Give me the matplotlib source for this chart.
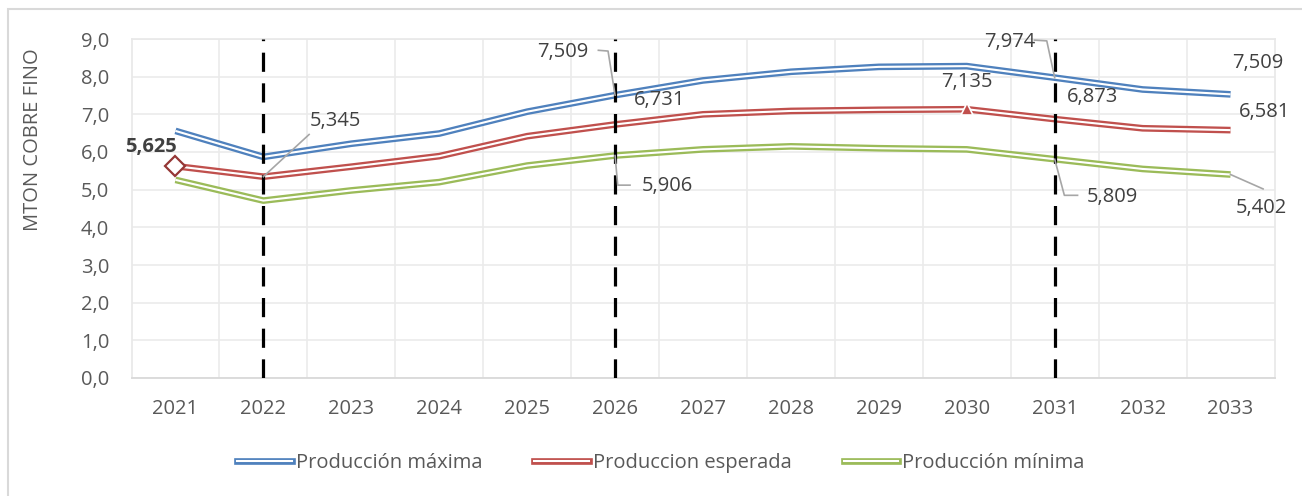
import matplotlib
matplotlib.use("Agg")
import matplotlib.pyplot as plt
import numpy as np
from matplotlib.patches import Rectangle
from matplotlib.lines import Line2D
import matplotlib.patheffects as pe

years = [2021, 2022, 2023, 2024, 2025, 2026, 2027, 2028, 2029, 2030, 2031, 2032, 2033]
prod_max = [6.56, 5.87, 6.22, 6.49, 7.07, 7.509, 7.90, 8.13, 8.26, 8.28, 7.974, 7.66, 7.53]
prod_esp = [5.625, 5.345, 5.61, 5.89, 6.42, 6.731, 7.00, 7.09, 7.12, 7.135, 6.873, 6.63, 6.581]
prod_min = [5.26, 4.71, 4.98, 5.20, 5.64, 5.906, 6.07, 6.15, 6.10, 6.07, 5.809, 5.55, 5.402]
series_names = ["Producción máxima", "Produccion esperada", "Producción mínima"]
colors = ["#4F81BD", "#C0504D", "#9BBB59"]
vlines_years = [2022, 2026, 2031]
ylabel = "MTON COBRE FINO"

FONT = ["Open Sans", "DejaVu Sans"]
plt.rcParams['font.family'] = FONT

W, H = 1302, 496
fig = plt.figure(figsize=(W/100, H/100), dpi=100)
ax = fig.add_axes([131.5/W, 1-378/H, (1274.5-131.5)/W, (378-39)/H])

# figure border (top & left visible)
fig.patches.append(Rectangle((8/W, -0.1), 1.2, 1.1-9.5/H, transform=fig.transFigure,
                             fill=False, edgecolor="#D9D9D9", lw=1.5))

x = np.arange(len(years))
ax.set_xlim(-0.5, len(years)-0.5)
ax.set_ylim(0, 9)
yt = np.arange(0, 9.01, 1)
ax.set_yticks(yt)
ax.set_yticklabels([f"{v:.1f}".replace(".", ",") for v in yt])
ax.set_xticks(x)
ax.set_xticklabels([str(y) for y in years])
ax.tick_params(length=0, labelsize=14.5, colors="#595959")
ax.tick_params(axis='x', pad=15)
ax.tick_params(axis='y', pad=16)
for s in ["top", "right", "left"]:
    ax.spines[s].set_color("#E8E8E8")
    ax.spines[s].set_linewidth(1.2)
ax.spines["bottom"].set_color("#D9D9D9")
ax.spines["bottom"].set_linewidth(1.3)
ax.grid(axis='y', color="#EBEBEB", lw=1.2)
for b in np.arange(0.5, len(years)-0.5, 1):
    ax.axvline(b, color="#EBEBEB", lw=1.2, zorder=0)
ax.set_axisbelow(True)
fig.text(33/W, 1-140/H, ylabel, rotation=90, fontsize=14.5, color="#595959",
         ha="center", va="center")

for vals, col in zip([prod_max, prod_esp, prod_min], colors):
    ax.plot(x, vals, color=col, lw=4.8, zorder=3, solid_joinstyle='round', solid_capstyle='butt')
    ax.plot(x, vals, color="white", lw=1.5, zorder=3.1, solid_joinstyle='round', solid_capstyle='butt')

# dashed vertical lines
for vy in vlines_years:
    xi = years.index(vy)
    ax.axvline(xi, color="black", lw=2.3, dashes=(6, 3.6), zorder=4)

# markers
ax.plot([0], [prod_esp[0]], marker="D", ms=10, mfc="white", mec="#953735", mew=1.6, zorder=5)
i30 = years.index(2030)
ax.plot([i30], [prod_esp[i30]], marker="^", ms=9, mfc="#C0504D", mec="white", mew=1.2, zorder=5)

lab_kw = dict(fontsize=14.5, color="#404040", ha="center", va="center", zorder=6, clip_on=False)
lc = "#A6A6A6"

def yr(y):
    return years.index(y)

ax.text(yr(2021) - 0.28, prod_esp[0] + 0.52, "5,625", fontweight="bold", **lab_kw)

i = yr(2022)
ax.text(i + 0.82, prod_esp[i] + 1.48, "5,345", **lab_kw)
ax.plot([i, i + 0.52], [prod_esp[i], prod_esp[i] + 1.12], color=lc, lw=1.2, zorder=6)

i = yr(2026)
ax.text(i - 0.60, 8.65, "7,509", **lab_kw)
ax.plot([i - 0.19, i - 0.08, i], [8.70, 8.68, prod_max[i]], color=lc, lw=1.2, zorder=6)
ax.text(i + 0.51, prod_max[i] - 0.13, "6,731", **lab_kw)
ax.text(i + 0.60, 5.10, "5,906", **lab_kw)
ax.plot([i, i + 0.03, i + 0.17], [prod_min[i], 5.12, 5.12], color=lc, lw=1.2, zorder=6)

i = yr(2030)
ax.text(i, prod_esp[i] + 0.72, "7,135", **lab_kw)

i = yr(2031)
ax.text(i - 0.51, 8.92, "7,974", **lab_kw)
ax.plot([i - 0.23, i - 0.09, i], [8.97, 8.95, prod_max[i]], color=lc, lw=1.2, zorder=6)
ax.text(i + 0.43, prod_esp[i] + 0.59, "6,873", **lab_kw)
ax.text(i + 0.66, 4.80, "5,809", **lab_kw)
ax.plot([i, i + 0.11, i + 0.26], [prod_min[i], 4.85, 4.85], color=lc, lw=1.2, zorder=6)

i = yr(2033)
ax.text(i + 0.31, 8.36, "7,509", **lab_kw)
ax.text(i + 0.39, 7.06, "6,581", **lab_kw)
ax.text(i + 0.35, 4.51, "5,402", **lab_kw)
ax.plot([i, i + 0.37], [prod_min[i], 5.02], color=lc, lw=1.2, zorder=6, clip_on=False)

# legend
handles = []
for name, col in zip(series_names, colors):
    h = Line2D([], [], color="white", lw=1.5,
               path_effects=[pe.Stroke(linewidth=4.8, foreground=col), pe.Normal()])
    handles.append(h)
leg = fig.legend(handles, series_names, loc="center", bbox_to_anchor=(661/W, 1-463/H),
                 ncol=3, frameon=False, fontsize=14.5, handlelength=2.7, handletextpad=0.2,
                 columnspacing=2.6, labelcolor="#595959", borderpad=0, borderaxespad=0)

fig.savefig("out.png", dpi=100)
